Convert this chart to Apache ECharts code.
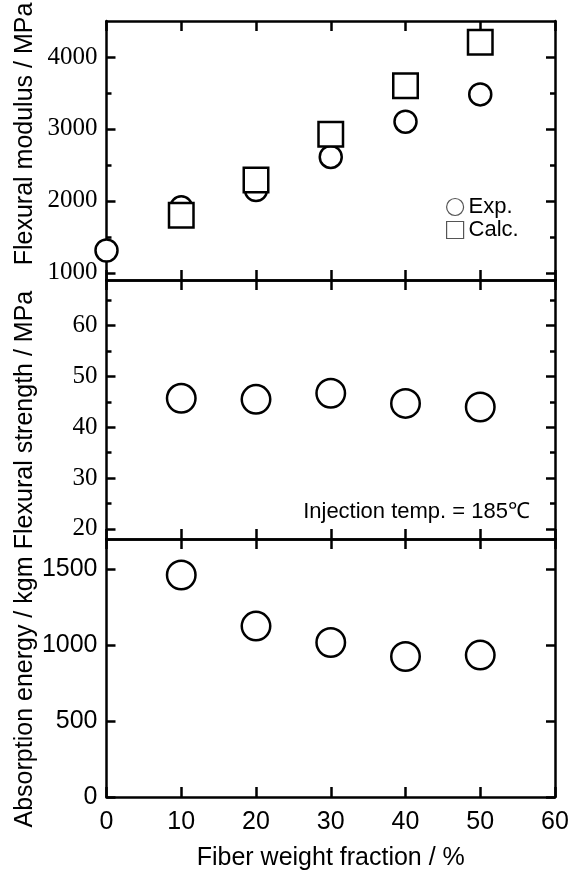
<!DOCTYPE html>
<html>
<head>
<meta charset="utf-8">
<script src="https://cdn.jsdelivr.net/npm/echarts@6/dist/echarts.min.js"></script>
<style>
html,body{margin:0;padding:0;background:#fff;}
#chart{width:569px;height:870px;}
</style>
</head>
<body>
<div id="chart"></div>
<script>
// ---- data ----
const xTicks = [0, 10, 20, 30, 40, 50, 60];
const modulusExpX = [0, 10, 20, 30, 40, 50];
const modulusExp = [1310, 1910, 2150, 2610, 3100, 3480];
const modulusCalcX = [10, 20, 30, 40, 50];
const modulusCalc = [1800, 2290, 2925, 3600, 4205];
const strengthX = [10, 20, 30, 40, 50];
const strengthExp = [45.7, 45.5, 46.7, 44.7, 44.0];
const energyX = [10, 20, 30, 40, 50];
const energyExp = [1463, 1126, 1018, 926, 935];

const modulusMajor = [1000, 2000, 3000, 4000];
const modulusMinor = [1500, 2500, 3500];
const strengthMajor = [20, 30, 40, 50, 60];
const strengthMinor = [25, 35, 45, 55, 65];
const energyMajor = [0, 500, 1000, 1500];

const titles = ['Flexural modulus / MPa', 'Flexural strength / MPa', 'Absorption energy / kgm'];
const xTitle = 'Fiber weight fraction / %';
const note = 'Injection temp. = 185℃';

// ---- chart ----
const LW = 2.5;
const axLine = {show: true, onZero: false, lineStyle: {color: '#000', width: LW}};
const serif = 'Liberation Serif, Times New Roman, serif';
const sans = 'Liberation Sans, Arial, sans-serif';

const grids = [
  {left: 106.5, right: 14, top: 21, height: 259, outerBoundsMode: 'none', containLabel: false},
  {left: 106.5, right: 14, top: 280, height: 259, outerBoundsMode: 'none', containLabel: false},
  {left: 106.5, right: 14, top: 539, height: 258, outerBoundsMode: 'none', containLabel: false}
];
const yRanges = [[900, 4500], [18, 69], [0, 1700]];
const majors = [modulusMajor, strengthMajor, energyMajor];
const minors = [modulusMinor, strengthMinor, null];
const labelFonts = [serif, serif, sans];

const xAxes = [];
const yAxes = [];
grids.forEach((g, i) => {
  ['bottom', 'top'].forEach(pos => {
    xAxes.push({
      gridIndex: i, type: 'value', min: 0, max: 60, interval: 10, position: pos,
      axisLine: axLine,
      axisTick: {show: true, inside: true, length: 10, lineStyle: {color: '#000', width: LW}},
      axisLabel: {show: i === 2 && pos === 'bottom', color: '#000', fontFamily: sans, fontSize: 25, margin: 13,
                  formatter: v => String(v)},
      splitLine: {show: false},
      name: (i === 2 && pos === 'bottom') ? xTitle : '',
      nameLocation: 'middle', nameGap: 49,
      nameTextStyle: {color: '#000', fontFamily: sans, fontSize: 25}
    });
  });
  ['left', 'right'].forEach(pos => {
    yAxes.push({
      gridIndex: i, type: 'value', min: yRanges[i][0], max: yRanges[i][1], position: pos,
      axisLine: axLine,
      axisTick: {show: true, inside: true, length: 9, customValues: majors[i], lineStyle: {color: '#000', width: LW}},
      axisLabel: {show: pos === 'left', customValues: majors[i], color: '#000', fontFamily: labelFonts[i], fontSize: i === 2 ? 25 : 25, margin: 9,
                  formatter: v => String(v)},
      splitLine: {show: false}
    });
    if (minors[i]) {
      yAxes.push({
        gridIndex: i, type: 'value', min: yRanges[i][0], max: yRanges[i][1], position: pos,
        axisLine: {show: false, onZero: false},
        axisTick: {show: true, inside: true, length: 5, customValues: minors[i], lineStyle: {color: '#000', width: LW}},
        axisLabel: {show: false},
        splitLine: {show: false}
      });
    }
  });
});
// y-axis index of main left axis per grid
const yIdx = [];
yAxes.forEach((a, k) => { if (a.position === 'left' && a.axisLine.show !== false && yIdx[a.gridIndex] === undefined) yIdx[a.gridIndex] = k; });

function pts(xs, ys) { return xs.map((x, k) => [x, ys[k]]); }
const mk = (name, gi, xs, ys, symbol, size) => ({
  name, type: 'scatter', xAxisIndex: gi * 2, yAxisIndex: yIdx[gi],
  data: pts(xs, ys), symbol, symbolSize: size, clip: false,
  itemStyle: {color: '#fff', borderColor: '#000', borderWidth: LW, opacity: 1},
  emphasis: {disabled: true}
});

const titleStyle = t => ({text: t, fill: '#000', font: '25px ' + sans, textAlign: 'center', textVerticalAlign: 'middle', align: 'center', verticalAlign: 'middle'});

const option = {
  backgroundColor: '#fff',
  animation: false,
  grid: grids,
  xAxis: xAxes,
  yAxis: yAxes,
  legend: {
    data: [{name: 'Exp.', icon: 'circle'}, {name: 'Calc.', icon: 'rect'}],
    orient: 'vertical', left: 441, top: 191,
    itemWidth: 17, itemHeight: 17, itemGap: 1,
    itemStyle: {color: '#fff', borderColor: '#555', borderWidth: 1.2},
    textStyle: {color: '#000', fontFamily: sans, fontSize: 22, padding: [0, 0, 0, 0]},
    selectedMode: false
  },
  series: [
    mk('Exp.', 0, modulusExpX, modulusExp, 'circle', 22),
    mk('Calc.', 0, modulusCalcX, modulusCalc, 'rect', 24.5),
    mk('Flexural strength', 1, strengthX, strengthExp, 'circle', 28.5),
    mk('Absorption energy', 2, energyX, energyExp, 'circle', 28.5)
  ],
  graphic: [
    {type: 'text', x: 25, y: 134, rotation: Math.PI / 2, style: titleStyle(titles[0])},
    {type: 'text', x: 25, y: 420, rotation: Math.PI / 2, style: titleStyle(titles[1])},
    {type: 'text', x: 25, y: 692, rotation: Math.PI / 2, style: titleStyle(titles[2])},
    {type: 'text', x: 530, y: 512,
     style: {text: note, fill: '#000', font: '22px ' + sans, textAlign: 'right', textVerticalAlign: 'middle', align: 'right', verticalAlign: 'middle'}}
  ]
};
const chart = echarts.init(document.getElementById('chart'), null, {renderer: 'canvas'});
chart.setOption(option);
</script>
</body>
</html>
